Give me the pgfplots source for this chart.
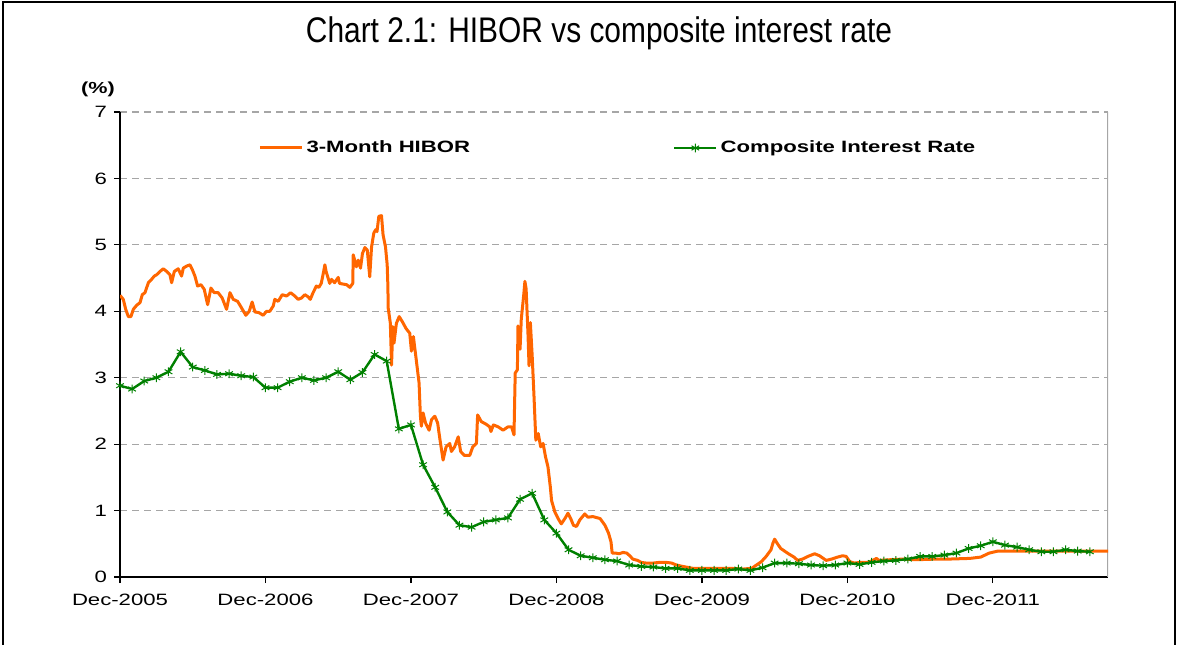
\documentclass[border=0pt]{standalone}
\usepackage{pgfplots}
\pgfplotsset{compat=1.18}
\usepackage{fontspec}
\setmainfont{Liberation Sans}
\newfontfamily\tickfont[FakeStretch=1.35]{Liberation Sans}
\newfontfamily\titlefont[FakeStretch=0.84]{Liberation Sans}
\definecolor{hibor}{HTML}{FF6600}
\definecolor{cir}{HTML}{008000}
\definecolor{gridc}{HTML}{A6A6A6}
\begin{document}
\begin{tikzpicture}
\path[use as bounding box] (0,0) rectangle (590.5pt,322pt);
\draw[line width=1.2pt] (1.5pt,-1pt) -- (1.5pt,321pt) -- (587.5pt,321pt) -- (587.5pt,-1pt);
\node[anchor=base,inner sep=0pt] at (299.5pt,300.5pt) {\titlefont\fontsize{17.8}{21}\selectfont Chart 2.1: HIBOR vs composite interest rate};
\node[anchor=base,inner sep=0pt] at (49pt,275pt) {\tickfont\bfseries\fontsize{8}{9.6}\selectfont (\%)};
\begin{axis}[
  at={(60pt,33.5pt)}, anchor=south west,
  scale only axis, width=494pt, height=232.5pt,
  xmin=0, xmax=81.5, ymin=0, ymax=7,
  axis lines*=left, axis line style={black, line width=0.8pt, -},
  xtick={0,12,24,36,48,60,72},
  xticklabels={Dec-2005,Dec-2006,Dec-2007,Dec-2008,Dec-2009,Dec-2010,Dec-2011},
  ytick={0,1,2,3,4,5,6,7},
  tick align=outside, major tick length=3pt,
  tick style={black, line width=0.6pt},
  ymajorgrids, grid style={gridc, dash pattern=on 3.5pt off 2.5pt, line width=0.6pt},
  /pgf/number format/assume math mode=true,
  ticklabel style={font=\tickfont\fontsize{8.2}{9.8}\selectfont},
  xticklabel style={yshift=-2pt},
  legend columns=2,
  legend style={draw=none, fill=none, at={(0.1397,0.9226)}, anchor=west, inner sep=0pt,
    font=\tickfont\bfseries\fontsize{8.2}{9.8}\selectfont,
    /tikz/every even column/.append style={column sep=100pt},
    nodes={inner sep=1.5pt, anchor=west}},
  legend image code/.code={\draw[mark repeat=2,mark phase=2,#1] plot coordinates {(0cm,0cm) (0.37cm,0cm) (0.74cm,0cm)};},
  clip=true,
]
\draw[gridc, line width=0.8pt] (rel axis cs:1,0) -- (rel axis cs:1,1);
\addplot[hibor, line width=1.5pt, line join=round] table {
t v
0 4.24
0.27 4.18
0.47 4.03
0.69 3.92
0.9 3.92
1.1 4.03
1.37 4.09
1.65 4.13
1.84 4.25
2.06 4.28
2.34 4.43
2.6 4.48
2.83 4.53
3.02 4.55
3.3 4.6
3.57 4.64
3.85 4.6
4.12 4.55
4.26 4.43
4.48 4.6
4.8 4.64
5.08 4.53
5.22 4.65
5.49 4.68
5.77 4.7
5.96 4.63
6.18 4.53
6.4 4.38
6.68 4.4
6.95 4.33
7.23 4.1
7.5 4.35
7.77 4.28
8.1 4.28
8.43 4.2
8.79 4.03
9.07 4.28
9.34 4.18
9.7 4.15
10.03 4.05
10.38 3.94
10.66 4.0
10.9 4.14
11.13 3.99
11.46 3.98
11.81 3.94
12.09 4.0
12.36 4.0
12.64 4.08
12.77 4.18
13.05 4.15
13.38 4.25
13.74 4.23
14.07 4.28
14.42 4.23
14.7 4.18
14.97 4.2
15.25 4.25
15.5 4.22
15.7 4.18
15.9 4.27
16.2 4.38
16.4 4.36
16.6 4.42
16.8 4.6
16.9 4.7
17.0 4.6
17.3 4.42
17.45 4.48
17.7 4.43
18.0 4.51
18.1 4.42
18.4 4.41
18.7 4.4
18.96 4.36
19.2 4.42
19.24 4.85
19.5 4.67
19.65 4.77
19.84 4.65
20.0 4.87
20.2 4.96
20.4 4.92
20.6 4.52
20.75 4.97
20.94 5.18
21.1 5.23
21.2 5.2
21.35 5.43
21.57 5.44
21.7 5.15
21.9 4.97
22.04 4.7
22.1 4.37
22.12 4.05
22.3 3.82
22.4 3.19
22.5 3.77
22.6 3.52
22.8 3.82
23.03 3.92
23.3 3.84
23.6 3.74
23.9 3.67
24.04 3.4
24.2 3.62
24.45 3.25
24.67 2.92
24.78 2.42
24.86 2.27
25.0 2.47
25.2 2.32
25.5 2.21
25.7 2.37
25.97 2.42
26.2 2.32
26.4 2.06
26.65 1.76
26.9 1.96
27.2 2.01
27.34 1.89
27.6 1.96
27.9 2.11
28.1 1.89
28.4 1.83
28.85 1.83
29.1 1.96
29.4 2.01
29.5 2.44
29.8 2.34
30.2 2.3
30.5 2.26
30.6 2.19
30.8 2.29
31.2 2.26
31.6 2.21
32.0 2.26
32.3 2.26
32.5 2.14
32.6 3.07
32.78 3.12
32.83 3.78
33.0 3.43
33.1 3.88
33.3 4.24
33.4 4.45
33.5 4.34
33.66 3.63
33.74 3.18
33.85 3.83
34.0 3.33
34.15 2.72
34.3 2.06
34.5 2.16
34.7 1.96
34.9 2.01
35.1 1.81
35.3 1.66
35.5 1.35
35.6 1.15
35.87 0.98
36.14 0.88
36.4 0.8
36.7 0.88
36.95 0.96
37.2 0.87
37.4 0.78
37.65 0.76
37.93 0.86
38.34 0.95
38.6 0.9
39.0 0.91
39.6 0.88
40.0 0.78
40.3 0.66
40.5 0.53
40.6 0.36
40.9 0.36
41.17 0.35
41.5 0.37
41.8 0.36
42.05 0.32
42.3 0.27
42.7 0.25
43.0 0.22
43.4 0.21
43.97 0.21
44.5 0.22
45.07 0.22
45.5 0.21
45.9 0.18
46.4 0.16
47.27 0.13
48.4 0.13
49.5 0.13
50.4 0.13
51.4 0.12
52.1 0.13
52.5 0.18
52.9 0.23
53.3 0.31
53.7 0.41
53.86 0.51
54.0 0.57
54.2 0.51
54.5 0.43
54.9 0.38
55.23 0.34
55.6 0.30
55.9 0.25
56.3 0.27
56.74 0.31
57.3 0.35
57.7 0.32
58.25 0.25
58.7 0.27
59.2 0.30
59.6 0.32
59.9 0.31
60.2 0.23
60.6 0.21
61.1 0.22
61.7 0.22
62.1 0.25
62.4 0.28
62.6 0.25
63.5 0.26
64.6 0.27
65.7 0.26
67.3 0.27
68.4 0.27
70.1 0.28
71.0 0.30
71.7 0.36
72.4 0.39
74.5 0.39
77.2 0.39
80.0 0.39
81.5 0.39
};
\addlegendentry{3-Month HIBOR}
\addplot[cir, line width=1.2pt, mark=asterisk, mark size=2.2pt, mark options={solid, line width=0.5pt}] table {
t v
0 2.88
1 2.83
2 2.95
3 3.00
4 3.09
5 3.39
6 3.16
7 3.11
8 3.05
9 3.06
10 3.03
11 3.01
12 2.85
13 2.85
14 2.94
15 3.00
16 2.96
17 3.00
18 3.09
19 2.97
20 3.08
21 3.35
22 3.25
23 2.23
24 2.29
25 1.69
26 1.35
27 0.98
28 0.78
29 0.75
30 0.83
31 0.86
32 0.89
33 1.17
34 1.26
35 0.86
36 0.66
37 0.41
38 0.32
39 0.29
40 0.26
41 0.24
42 0.18
43 0.16
44 0.15
45 0.13
46 0.13
47 0.10
48 0.10
49 0.10
50 0.10
51 0.12
52 0.10
53 0.14
54 0.21
55 0.21
56 0.20
57 0.18
58 0.17
59 0.18
60 0.21
61 0.19
62 0.22
63 0.24
64 0.25
65 0.27
66 0.31
67 0.31
68 0.33
69 0.36
70 0.43
71 0.47
72 0.53
73 0.48
74 0.45
75 0.41
76 0.38
77 0.38
78 0.41
79 0.39
80 0.38
};
\addlegendentry{Composite Interest Rate}
\end{axis}
\end{tikzpicture}
\end{document}
